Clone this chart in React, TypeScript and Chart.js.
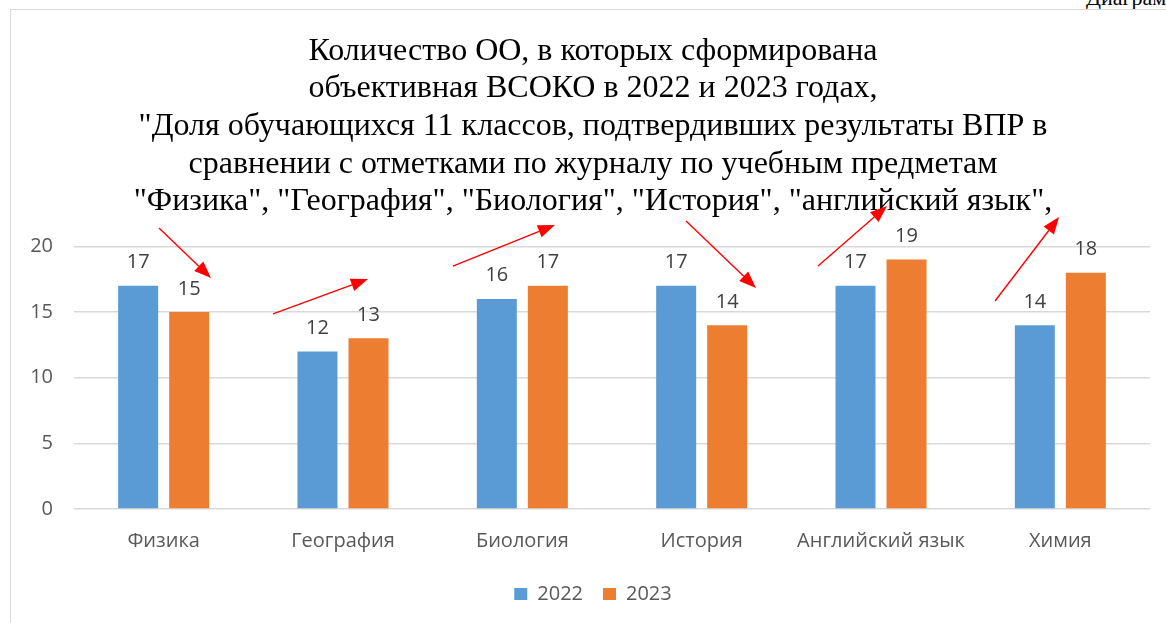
import React, { useEffect, useRef } from "react";
import { Chart, registerables } from "chart.js";

Chart.register(...registerables);

const categories = ["Физика", "География", "Биология", "История", "Английский язык", "Химия"];
const seriesNames = ["2022", "2023"];
const values2022 = [17, 12, 16, 17, 17, 14];
const values2023 = [15, 13, 17, 14, 19, 18];
const yTickValues = [0, 5, 10, 15, 20];
const titleLines = [
  "Количество ОО, в которых сформирована",
  "объективная ВСОКО в 2022 и 2023 годах,",
  "\"Доля обучающихся 11 классов, подтвердивших результаты ВПР в",
  "сравнении с отметками по журналу по учебным предметам",
  "\"Физика\", \"География\", \"Биология\", \"История\", \"английский язык\",",
];
// trend arrows annotation, in data units: [category position, value]
const arrowStarts = [
  [-0.026, 21.41],
  [0.61, 14.86],
  [1.613, 18.51],
  [2.913, 21.94],
  [3.649, 18.51],
  [4.636, 15.85],
];
const arrowEnds = [
  [0.264, 17.6],
  [1.139, 17.52],
  [2.182, 21.64],
  [3.303, 16.84],
  [4.034, 23.09],
  [4.993, 22.25],
];

const SANS = "'Open Sans', 'Noto Sans', sans-serif";
const SERIF = "'Liberation Serif', 'Times New Roman', serif";

const overlayPlugin = {
  id: "overlay",
  afterDatasetsDraw(chart: any) {
    const ctx = chart.ctx;
    ctx.save();
    ctx.font = `20px ${SANS}`;
    ctx.fillStyle = "#404040";
    ctx.textAlign = "center";
    ctx.textBaseline = "alphabetic";
    chart.data.datasets.forEach((ds: any, di: number) => {
      const meta = chart.getDatasetMeta(di);
      meta.data.forEach((bar: any, i: number) => {
        ctx.fillText(String(ds.data[i]), bar.x, bar.y - 17.5);
      });
    });
    ctx.restore();
  },
  afterDraw(chart: any) {
    const ctx = chart.ctx;
    const xs = chart.scales.x;
    const ys = chart.scales.y;
    ctx.save();
    ctx.strokeStyle = "#ff0000";
    ctx.fillStyle = "#ff0000";
    ctx.lineWidth = 1.4;
    arrowStarts.forEach((s, i) => {
      const e = arrowEnds[i];
      const x1 = xs.getPixelForValue(s[0]);
      const y1 = ys.getPixelForValue(s[1]);
      const x2 = xs.getPixelForValue(e[0]);
      const y2 = ys.getPixelForValue(e[1]);
      const ang = Math.atan2(y2 - y1, x2 - x1);
      const headLen = 17;
      const headHalf = 6.5;
      const bx = x2 - headLen * Math.cos(ang);
      const by = y2 - headLen * Math.sin(ang);
      ctx.beginPath();
      ctx.moveTo(x1, y1);
      ctx.lineTo(bx, by);
      ctx.stroke();
      ctx.beginPath();
      ctx.moveTo(x2, y2);
      ctx.lineTo(bx + headHalf * Math.sin(ang), by - headHalf * Math.cos(ang));
      ctx.lineTo(bx - headHalf * Math.sin(ang), by + headHalf * Math.cos(ang));
      ctx.closePath();
      ctx.fill();
    });
    ctx.restore();
  },
};

export default function App() {
  const canvasRef = useRef<HTMLCanvasElement | null>(null);

  useEffect(() => {
    document.body.style.margin = "0";
    const canvas = canvasRef.current;
    if (!canvas) return;
    const chart = new Chart(canvas, {
      type: "bar",
      data: {
        labels: categories,
        datasets: [
          {
            label: seriesNames[0],
            data: values2022,
            backgroundColor: "#5b9bd5",
            borderWidth: 0,
            categoryPercentage: 0.569,
            barPercentage: 0.784,
          },
          {
            label: seriesNames[1],
            data: values2023,
            backgroundColor: "#ed7d31",
            borderWidth: 0,
            categoryPercentage: 0.569,
            barPercentage: 0.784,
          },
        ],
      },
      options: {
        responsive: false,
        animation: false,
        devicePixelRatio: 1,
        layout: { padding: { left: 0, right: 0, top: 0, bottom: 9 } },
        plugins: {
          title: {
            display: true,
            text: titleLines,
            color: "#000000",
            font: { family: SERIF, size: 32, weight: "normal", lineHeight: 1.178 },
            padding: { top: 21.4, bottom: 25.6 },
          },
          legend: {
            display: true,
            position: "bottom",
            labels: {
              boxWidth: 13,
              boxHeight: 12,
              padding: 20,
              color: "#595959",
              font: { family: SANS, size: 20 },
            },
          },
          tooltip: { enabled: false },
        },
        scales: {
          x: {
            grid: { display: false, drawTicks: false },
            border: { display: false },
            ticks: {
              color: "#595959",
              font: { family: SANS, size: 20 },
              padding: 20.5,
              maxRotation: 0,
              autoSkip: false,
            },
            afterFit: (s: any) => {
              s.height = 55;
            },
          },
          y: {
            min: 0,
            max: 20,
            grid: { color: "#d9d9d9", lineWidth: 1.5, drawTicks: false },
            border: { display: false },
            ticks: {
              color: "#595959",
              font: { family: SANS, size: 20 },
              padding: 21,
            },
            afterBuildTicks: (s: any) => {
              s.ticks = yTickValues.map((v) => ({ value: v }));
            },
            afterFit: (s: any) => {
              s.width = 63;
            },
          },
          y2: {
            position: "right",
            display: true,
            grid: { display: false, drawTicks: false },
            border: { display: false },
            ticks: { display: false },
            afterFit: (s: any) => {
              s.width = 25;
            },
          },
        },
      },
      plugins: [overlayPlugin],
    } as any);
    return () => chart.destroy();
  }, []);

  return (
    <div
      style={{
        position: "relative",
        width: 1166,
        height: 623,
        overflow: "hidden",
        background: "#ffffff",
      }}
    >
      <div
        style={{
          position: "absolute",
          left: 1086,
          top: -13,
          fontFamily: SERIF,
          fontSize: 22,
          lineHeight: "22px",
          whiteSpace: "nowrap",
          color: "#000",
        }}
      >
        Диаграмма
      </div>
      <div
        style={{
          position: "absolute",
          left: 10,
          top: 9,
          width: 1300,
          height: 800,
          border: "1px solid #d9d9d9",
          boxSizing: "border-box",
        }}
      />
      <canvas
        ref={canvasRef}
        width={1164}
        height={612}
        style={{ position: "absolute", left: 11, top: 11, width: 1164, height: 612 }}
      />
    </div>
  );
}
